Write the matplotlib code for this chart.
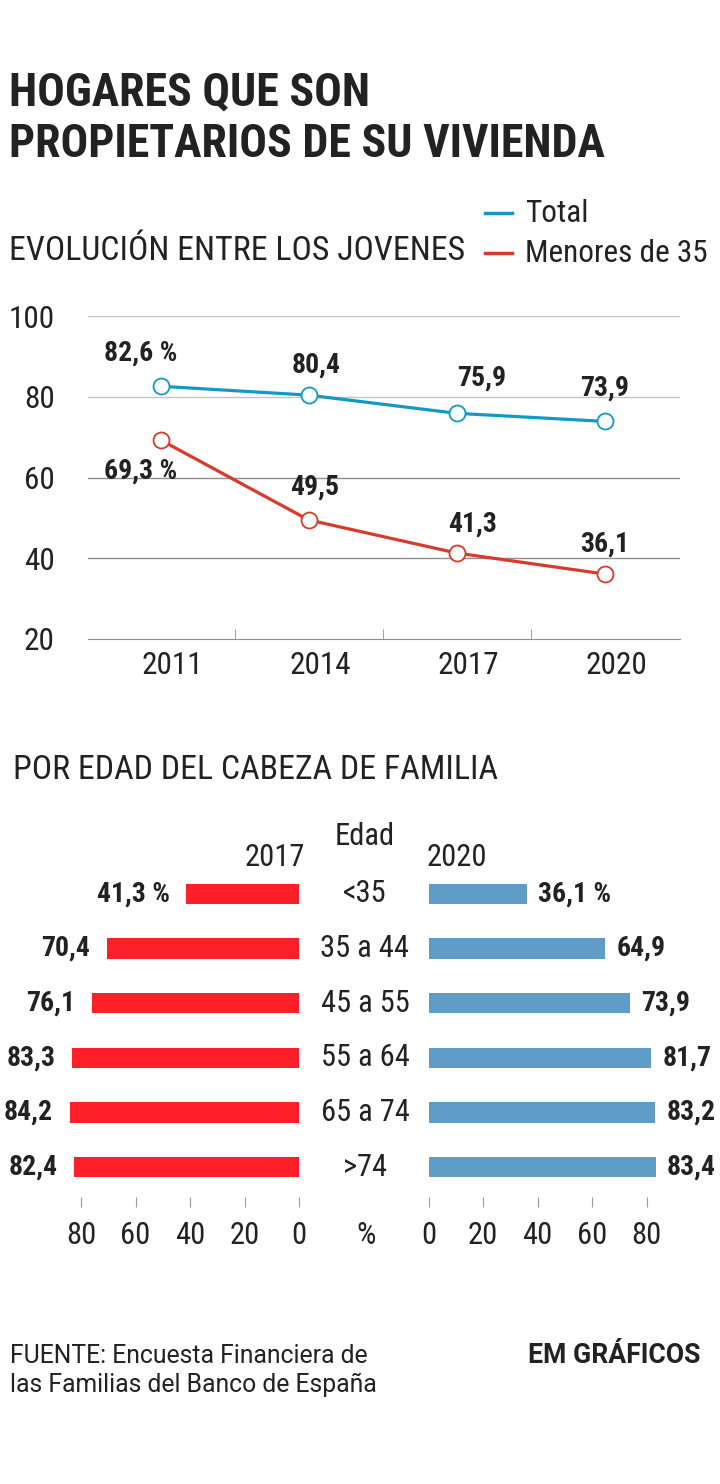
import matplotlib
matplotlib.use('Agg')
import matplotlib.pyplot as plt
from matplotlib import font_manager

# Data
years = ['2011', '2014', '2017', '2020']
total = [82.6, 80.4, 75.9, 73.9]
menores = [69.3, 49.5, 41.3, 36.1]

ages = ['<35', '35 a 44', '45 a 55', '55 a 64', '65 a 74', '>74']
v2017 = [41.3, 70.4, 76.1, 83.3, 84.2, 82.4]
v2020 = [36.1, 64.9, 73.9, 81.7, 83.2, 83.4]
bar_ticks = [0, 20, 40, 60, 80]

# Fonts: pick a condensed family if there is one
names = {f.name for f in font_manager.fontManager.ttflist}
COND = next((n for n in ['Roboto Condensed', 'Liberation Sans Narrow', 'Roboto'] if n in names), 'DejaVu Sans')
REG = 'Roboto' if 'Roboto' in names else 'DejaVu Sans'
plt.rcParams['font.family'] = COND

TXT = '#222222'
BLUE_L = '#1399c6'
RED_L = '#d93a2b'
RED_B = '#ff1f28'
BLUE_B = '#5f9dc8'

W, H = 720, 1484
fig = plt.figure(figsize=(7.2, 14.84), dpi=100)


def px(x, y):
    return x / W, 1 - y / H


def fmt(v):
    return f'{v:.1f}'.replace('.', ',')


def ftext(x, y, s, **kw):
    kw.setdefault('color', TXT)
    fig.text(*px(x, y), s, **kw)


# Titles
ftext(9, 105, 'HOGARES QUE SON', fontsize=33, fontweight='bold', va='baseline')
ftext(9, 157, 'PROPIETARIOS DE SU VIVIENDA', fontsize=33, fontweight='bold', va='baseline')
ftext(9, 260, 'EVOLUCIÓN ENTRE LOS JOVENES', fontsize=24.4, va='baseline')

# Legend
for yy, lab, c in [(213, 'Total', BLUE_L), (253, 'Menores de 35', RED_L)]:
    fig.add_artist(plt.Line2D([485 / W, 512 / W], [1 - yy / H, 1 - yy / H], color=c, lw=2.5))
    ftext(525, yy, lab, fontsize=22.5, va='center')

# Line chart
ax = fig.add_axes([88 / W, 1 - 639 / H, (680 - 88) / W, (639 - 316) / H])
x = range(len(years))
ax.set_xlim(-0.49, 3.51)
ax.set_ylim(20, 100)
for g, c in [(100, '#c4c4c4'), (80, '#c4c4c4'), (60, '#8f8f8f'), (40, '#8f8f8f')]:
    ax.axhline(g, color=c, lw=1, zorder=0)
for s in ['top', 'right', 'left']:
    ax.spines[s].set_visible(False)
ax.spines['bottom'].set_color('#8f8f8f')
ax.set_yticks([20, 40, 60, 80, 100])
ax.tick_params(axis='y', length=0, pad=24, labelsize=22.5, labelcolor=TXT)
ax.set_xticks([i + 0.08 for i in x])
ax.set_xticklabels(years)
ax.tick_params(axis='x', length=0, pad=9, labelsize=22.5, labelcolor=TXT)
ax.set_xticks([0.5, 1.5, 2.5], minor=True)
ax.tick_params(axis='x', which='minor', direction='in', length=7, color='#8f8f8f')

ax.plot(x, total, color=BLUE_L, lw=2.3, marker='o', ms=11.5, mfc='white', mec=BLUE_L, mew=1.3)
ax.plot(x, menores, color=RED_L, lw=2.3, marker='o', ms=11.5, mfc='white', mec=RED_L, mew=1.3)

tot_off = [(-20, 33), (8, 30), (25, 35), (0, 33)]
men_off = [(-20, -31), (6, 33), (16, 29), (0, 30)]
for i, v in enumerate(total):
    lab = fmt(v) + (' %' if i == 0 else '')
    dx, dy = tot_off[i]
    ax.annotate(lab, (i, v), xytext=(dx * 0.72, dy * 0.72), textcoords='offset points',
                ha='center', va='center', fontsize=20, fontweight='bold', color=TXT)
for i, v in enumerate(menores):
    lab = fmt(v) + (' %' if i == 0 else '')
    dx, dy = men_off[i]
    ax.annotate(lab, (i, v), xytext=(dx * 0.72, dy * 0.72), textcoords='offset points',
                ha='center', va='center', fontsize=20, fontweight='bold', color=TXT)

# Bar chart section
ftext(13, 779, 'POR EDAD DEL CABEZA DE FAMILIA', fontsize=24.4, va='baseline')
ftext(365, 836, 'Edad', fontsize=22, ha='center', va='center')
ftext(305, 857, '2017', fontsize=22, ha='right', va='center')
ftext(427, 857, '2020', fontsize=22, ha='left', va='center')
ftext(366, 1236, '%', fontsize=22, ha='center', va='center')

ppu = 218 / 80  # pixels per unit
y_top, y_bot = 870, 1207
axL = fig.add_axes([0, 1 - y_bot / H, 299 / W, (y_bot - y_top) / H])
axR = fig.add_axes([428.6 / W, 1 - y_bot / H, (W - 428.6) / W, (y_bot - y_top) / H])
ylim = ((y_bot - 894) / 54.6, (y_top - 894) / 54.6)
pos = list(range(len(ages)))

axL.barh(pos, v2017, height=0.37, color=RED_B)
axR.barh(pos, v2020, height=0.37, color=BLUE_B)
axL.set_xlim(299 / ppu, 0)
axR.set_xlim(0, (W - 428.6) / ppu)
for a in (axL, axR):
    a.set_ylim(*ylim)
    a.set_yticks([])
    for s in a.spines.values():
        s.set_visible(False)
    a.set_xticks(bar_ticks)
    a.tick_params(axis='x', direction='in', length=7, color='#9a9a9a', pad=10,
                  labelsize=22, labelcolor=TXT)
    a.patch.set_alpha(0)

for i, v in enumerate(v2017):
    lab = fmt(v) + (' %' if i == 0 else '')
    axL.annotate(lab, (v, i), xytext=(-12, 0), textcoords='offset points',
                 ha='right', va='center', fontsize=20, fontweight='bold', color=TXT)
for i, v in enumerate(v2020):
    lab = fmt(v) + (' %' if i == 0 else '')
    axR.annotate(lab, (v, i), xytext=(8, 0), textcoords='offset points',
                 ha='left', va='center', fontsize=20, fontweight='bold', color=TXT)
for i, a in enumerate(ages):
    ftext(365, 894 + i * 54.6, a, fontsize=22, ha='center', va='center')

# Footer
ftext(10, 1363, 'FUENTE: Encuesta Financiera de', fontsize=17.8, family=REG, va='baseline')
ftext(10, 1392, 'las Familias del Banco de España', fontsize=17.8, family=REG, va='baseline')
ftext(700, 1363, 'EM GRÁFICOS', fontsize=19.2, family=REG, fontweight='bold', ha='right', va='baseline')

fig.savefig('out.png', dpi=100, facecolor='white')
